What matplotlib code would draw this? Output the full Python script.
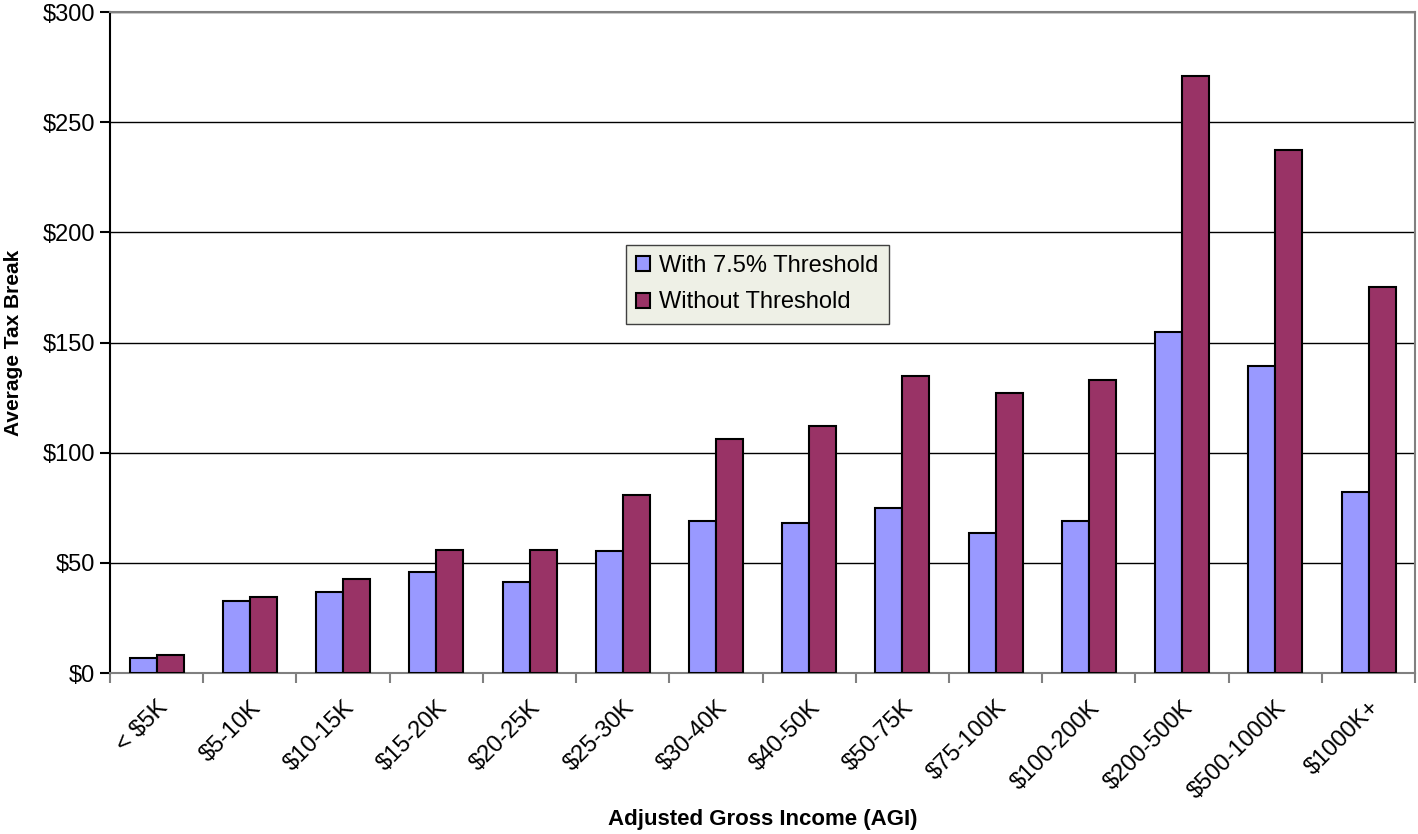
import numpy as np
from matplotlib import pyplot as plt
from matplotlib.ticker import FuncFormatter, FixedLocator

categories = ['< $5K', '$5-10K', '$10-15K', '$15-20K', '$20-25K', '$25-30K',
              '$30-40K', '$40-50K', '$50-75K', '$75-100K', '$100-200K',
              '$200-500K', '$500-1000K', '$1000K+']
with_threshold = [7, 32.5, 37, 46, 41.5, 55.5, 69, 68, 75, 63.5, 69, 155, 139.5, 82]
without_threshold = [8, 34.5, 42.5, 56, 56, 81, 106, 112, 135, 127, 133, 271, 237.5, 175]

plt.rcParams['font.family'] = ['Liberation Sans', 'DejaVu Sans']

fig = plt.figure(figsize=(14.18, 8.34), dpi=100)
ax = fig.add_axes([0.0776, 0.193, 0.9204, 0.7926])

x = np.arange(len(categories))
w = 0.29
ax.bar(x - w / 2, with_threshold, w, color='#9999FF', edgecolor='black',
       linewidth=1.5, label='With 7.5% Threshold', zorder=3)
ax.bar(x + w / 2, without_threshold, w, color='#993366', edgecolor='black',
       linewidth=1.5, label='Without Threshold', zorder=3)

ax.set_xlim(-0.5, len(categories) - 0.5)
ax.set_ylim(0, 300)
ax.set_yticks(range(0, 301, 50))
ax.yaxis.set_major_formatter(FuncFormatter(lambda v, p: f'${v:.0f}'))
ax.grid(axis='y', color='black', linewidth=1, zorder=0)

# Excel-style: ticks at category boundaries, labels at centers
ax.xaxis.set_major_locator(FixedLocator(np.arange(-0.5, len(categories), 1)))
ax.xaxis.set_major_formatter(FuncFormatter(lambda v, p: ''))
ax.xaxis.set_minor_locator(FixedLocator(x))
ax.set_xticklabels(categories, minor=True, rotation=45, ha='right',
                   rotation_mode='anchor', fontsize=17)
ax.tick_params(axis='x', which='major', length=7, color='#808080', width=1.5)
ax.tick_params(axis='x', which='minor', length=0, pad=17)
ax.tick_params(axis='y', labelsize=17, length=7, width=1.5)

for s in ['top', 'right', 'bottom']:
  ax.spines[s].set_color('#808080')
  ax.spines[s].set_linewidth(1.5)
ax.spines['left'].set_linewidth(1.5)

ax.set_ylabel('Average Tax Break', fontsize=15, fontweight='bold')
ax.yaxis.set_label_coords(-0.0665, 0.5)
ax.set_xlabel('Adjusted Gross Income (AGI)', fontsize=16, fontweight='bold')
ax.xaxis.set_label_coords(0.5, -0.205)

leg = ax.legend(loc='upper left', bbox_to_anchor=(0.395, 0.648), fontsize=17,
                frameon=True, fancybox=False, handlelength=0.6,
                handleheight=0.6, handletextpad=0.35, borderpad=0.45,
                labelspacing=0.6, borderaxespad=0)
leg.get_frame().set_facecolor('#EEF0E6')
leg.get_frame().set_edgecolor('#404040')
leg.get_frame().set_alpha(1)

fig.savefig('out.png', dpi=100)
